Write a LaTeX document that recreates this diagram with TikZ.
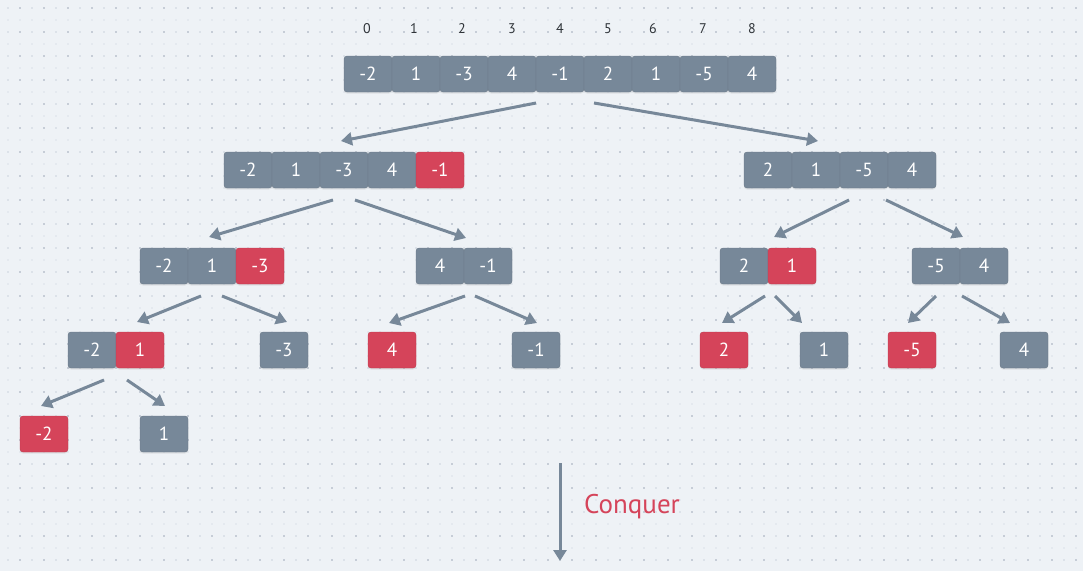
\documentclass[tikz,border=0pt]{standalone}
\usepackage{fontspec}
\setmainfont{PT Sans}
\usetikzlibrary{arrows.meta,shadows}
\definecolor{bg}{HTML}{EEF2F6}
\definecolor{dotd}{HTML}{C6CDD7}
\definecolor{dotl}{HTML}{DCE2E9}
\definecolor{dotvl}{HTML}{E4E9EF}
\definecolor{cellg}{HTML}{778899}
\definecolor{cellr}{HTML}{D5445A}
\definecolor{idxc}{HTML}{2E3338}
\begin{document}
\begin{tikzpicture}[x=1pt,y=-1pt,
  cell/.style={rectangle, minimum width=48pt, minimum height=36pt, inner sep=0pt,
    rounded corners=3pt, fill=cellg, draw=cellg!88!black, line width=0.4pt,
    text=white, font=\fontsize{19}{19}\selectfont,
    drop shadow={opacity=0.15, shadow xshift=0pt, shadow yshift=-1.5pt}},
  hotcell/.style={cell, fill=cellr, draw=cellr!88!black},
  idx/.style={font=\fontsize{14}{14}\selectfont, text=idxc, inner sep=0pt},
  link/.style={draw=cellg, line width=3pt, -{Triangle[length=11pt,width=13pt]}},
  conq/.style={font=\fontsize{27}{27}\selectfont, text=cellr, inner sep=0pt, anchor=west}
]
\useasboundingbox (0,0) rectangle (1083,571);
\fill[bg] (0,0) rectangle (1083,571);
% dotted grid
\foreach \y in {20,44,...,571}{\foreach \x in {8,20,...,1083}{\fill[dotvl] (\x-1,\y-1) rectangle +(2,2);}}
\foreach \y in {8,32,...,571}{\foreach \x in {8,32,...,1083}{\fill[dotl] (\x-1,\y-1) rectangle +(2,2);}}
\foreach \y in {8,32,...,571}{\foreach \x in {20,44,...,1083}{\fill[dotd] (\x-1,\y-1) rectangle +(2,2);}}

% index labels
\foreach \i/\x in {0/367,1/414,2/462,3/512,4/560,5/608,6/653,7/703,8/752}
  \node[idx] (i\i) at (\x,29) {\i};

% level 0
\node[cell] (a0) at (368,74) {-2};
\node[cell] (a1) at (416,74) {1};
\node[cell] (a2) at (464,74) {-3};
\node[cell] (a3) at (512,74) {4};
\node[cell] (a4) at (560,74) {-1};
\node[cell] (a5) at (608,74) {2};
\node[cell] (a6) at (656,74) {1};
\node[cell] (a7) at (704,74) {-5};
\node[cell] (a8) at (752,74) {4};

% level 1
\node[cell] (b0) at (248,170) {-2};
\node[cell] (b1) at (296,170) {1};
\node[cell] (b2) at (344,170) {-3};
\node[cell] (b3) at (392,170) {4};
\node[hotcell] (b4) at (440,170) {-1};
\node[cell] (c0) at (768,170) {2};
\node[cell] (c1) at (816,170) {1};
\node[cell] (c2) at (864,170) {-5};
\node[cell] (c3) at (912,170) {4};

% level 2
\node[cell] (d0) at (164,266) {-2};
\node[cell] (d1) at (212,266) {1};
\node[hotcell] (d2) at (260,266) {-3};
\node[cell] (e0) at (440,266) {4};
\node[cell] (e1) at (488,266) {-1};
\node[cell] (f0) at (744,266) {2};
\node[hotcell] (f1) at (792,266) {1};
\node[cell] (g0) at (936,266) {-5};
\node[cell] (g1) at (984,266) {4};

% level 3
\node[cell] (h0) at (92,350) {-2};
\node[hotcell] (h1) at (140,350) {1};
\node[cell] (h2) at (284,350) {-3};
\node[hotcell] (h3) at (392,350) {4};
\node[cell] (h4) at (536,350) {-1};
\node[hotcell] (h5) at (724,350) {2};
\node[cell] (h6) at (824,350) {1};
\node[hotcell] (h7) at (912,350) {-5};
\node[cell] (h8) at (1024,350) {4};

% level 4
\node[hotcell] (k0) at (44,434) {-2};
\node[cell] (k1) at (164,434) {1};

% arrow end points
\coordinate (s0l) at (536,103); \coordinate (t0l) at (341,141);
\coordinate (s0r) at (594,103); \coordinate (t0r) at (818,141);
\coordinate (s1l) at (333,200); \coordinate (t1l) at (209,237);
\coordinate (s1r) at (355,200); \coordinate (t1r) at (466,238);
\coordinate (s2l) at (849,200); \coordinate (t2l) at (774,237);
\coordinate (s2r) at (886,200); \coordinate (t2r) at (963,237);
\coordinate (s3l) at (201,296); \coordinate (t3l) at (137,322);
\coordinate (s3r) at (222,296); \coordinate (t3r) at (287,322);
\coordinate (s4l) at (465,296); \coordinate (t4l) at (389,323);
\coordinate (s4r) at (475,296); \coordinate (t4r) at (537,323);
\coordinate (s5l) at (765,296); \coordinate (t5l) at (722,323);
\coordinate (s5r) at (775,296); \coordinate (t5r) at (802,323);
\coordinate (s6l) at (936,296); \coordinate (t6l) at (908,323);
\coordinate (s6r) at (962,296); \coordinate (t6r) at (1010,323);
\coordinate (s7l) at (104,380); \coordinate (t7l) at (41,406);
\coordinate (s7r) at (127,380); \coordinate (t7r) at (165,406);
\foreach \n in {0,...,7}{
  \draw[link] (s\n l) -- (t\n l);
  \draw[link] (s\n r) -- (t\n r);
}

% conquer
\coordinate (cq0) at (560,463);
\coordinate (cq1) at (560,561);
\draw[link] (cq0) -- (cq1);
\node[conq] (cqt) at (584,507) {Conquer};
\end{tikzpicture}
\end{document}
